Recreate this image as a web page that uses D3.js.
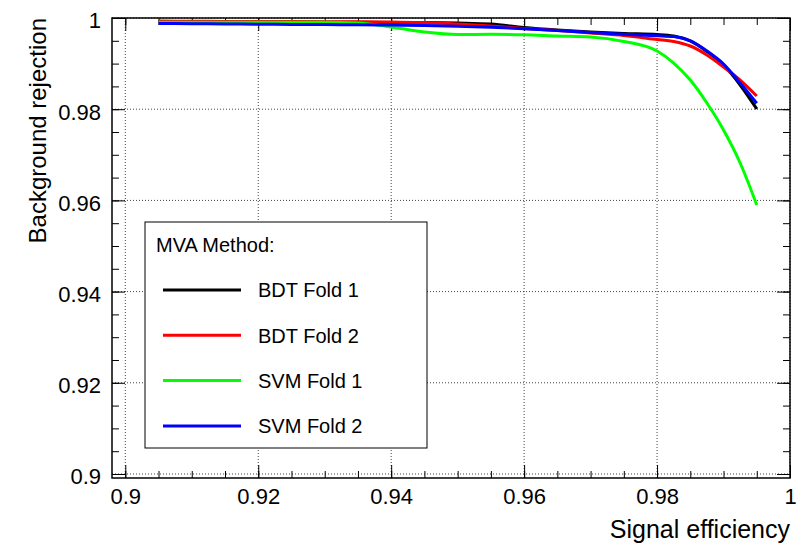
<!DOCTYPE html>
<html>
<head>
<meta charset="utf-8">
<script src="https://cdn.jsdelivr.net/npm/d3@7"></script>
<style>
  html, body { margin: 0; padding: 0; background: #fff; }
  svg { display: block; }
  text { font-family: "Liberation Sans", Arial, Helvetica, sans-serif; fill: #000; }
</style>
</head>
<body>
<svg id="chart" width="809" height="544"></svg>
<script>
// ROC curves: signal efficiency vs background rejection for each MVA method / fold
const sigEff = [0.905, 0.91, 0.915, 0.92, 0.925, 0.93, 0.935, 0.94, 0.945, 0.95, 0.955,
                0.96, 0.965, 0.97, 0.975, 0.98, 0.9825, 0.985, 0.9875, 0.99, 0.9925, 0.995];

const bdtFold1 = [0.99923, 0.99921, 0.99918, 0.99915, 0.99912, 0.99909, 0.99906, 0.99903, 0.99901, 0.9989, 0.99868,
                  0.99792, 0.99737, 0.99693, 0.9966, 0.99638, 0.99605, 0.99496, 0.99265, 0.98969, 0.98531, 0.98004];
const bdtFold2 = [0.99934, 0.99929, 0.99925, 0.99923, 0.99921, 0.99919, 0.99916, 0.9991, 0.99901, 0.99868, 0.99825,
                  0.9977, 0.99726, 0.99671, 0.99616, 0.99529, 0.99485, 0.99386, 0.99189, 0.98925, 0.9864, 0.9829];
const svmFold1 = [0.99906, 0.99906, 0.99906, 0.99906, 0.99906, 0.99906, 0.9989, 0.99803, 0.99693, 0.99638, 0.99643,
                  0.99632, 0.99605, 0.99583, 0.99485, 0.99276, 0.99013, 0.9864, 0.98136, 0.97544, 0.9682, 0.959];
const svmFold2 = [0.99879, 0.99875, 0.99868, 0.99864, 0.9986, 0.99855, 0.99851, 0.99846, 0.99836, 0.9982, 0.99798,
                  0.99765, 0.99726, 0.99682, 0.99643, 0.99612, 0.99594, 0.99496, 0.99276, 0.98991, 0.98575, 0.9813];

const seriesNames = ["BDT Fold 1", "BDT Fold 2", "SVM Fold 1", "SVM Fold 2"];
const seriesColors = ["#000000", "#ff0000", "#00ff00", "#0000ff"];
const seriesValues = [bdtFold1, bdtFold2, svmFold1, svmFold2];

const xMajorTicks = [0.9, 0.92, 0.94, 0.96, 0.98, 1];
const yMajorTicks = [0.9, 0.92, 0.94, 0.96, 0.98, 1];
const minorTicks = d3.range(0, 21).map(i => +(0.9 + i * 0.005).toFixed(3));

const xTitle = "Signal efficiency";
const yTitle = "Background rejection";
const legendTitle = "MVA Method:";

// frame geometry
const frame = { left: 112, right: 790, top: 18, bottom: 478 };
const W = frame.right - frame.left, H = frame.bottom - frame.top;

const x = d3.scaleLinear().domain([0.898, 1.0]).range([0, W]);
const y = d3.scaleLinear().domain([0.89912, 1.0]).range([H, 0]);

const svg = d3.select("#chart");
const g = svg.append("g").attr("transform", `translate(${frame.left},${frame.top})`);

const fmt = d => String(+d.toFixed(2));

// dotted grid
const grid = g.append("g").attr("class", "grid");
grid.selectAll("line.gx").data(xMajorTicks).join("line")
  .attr("x1", d => x(d)).attr("x2", d => x(d)).attr("y1", 0).attr("y2", H);
grid.selectAll("line.gy").data(yMajorTicks).join("line")
  .attr("x1", 0).attr("x2", W).attr("y1", d => y(d)).attr("y2", d => y(d));
grid.selectAll("line")
  .attr("stroke", "#444").attr("stroke-width", 1).attr("stroke-dasharray", "1,2");

// axes with inward ticks on all four sides
function styleAxis(sel) {
  sel.select(".domain").remove();
  sel.selectAll(".tick line").attr("stroke", "#000").attr("stroke-width", 1);
}
const majorLen = 13, minorLen = 7;

g.append("g").attr("transform", `translate(0,${H})`)
  .call(d3.axisBottom(x).tickValues(minorTicks).tickSize(-minorLen).tickFormat(""))
  .call(styleAxis);
g.append("g")
  .call(d3.axisTop(x).tickValues(minorTicks).tickSize(-minorLen).tickFormat(""))
  .call(styleAxis);
g.append("g")
  .call(d3.axisLeft(y).tickValues(minorTicks).tickSize(-minorLen).tickFormat(""))
  .call(styleAxis);
g.append("g").attr("transform", `translate(${W},0)`)
  .call(d3.axisRight(y).tickValues(minorTicks).tickSize(-minorLen).tickFormat(""))
  .call(styleAxis);

const xAxis = g.append("g").attr("transform", `translate(0,${H})`)
  .call(d3.axisBottom(x).tickValues(xMajorTicks).tickSize(-majorLen).tickPadding(10).tickFormat(fmt))
  .call(styleAxis);
xAxis.selectAll("text").attr("font-size", 22);
g.append("g")
  .call(d3.axisTop(x).tickValues(xMajorTicks).tickSize(-majorLen).tickFormat(""))
  .call(styleAxis);
const yAxis = g.append("g")
  .call(d3.axisLeft(y).tickValues(yMajorTicks).tickSize(-majorLen).tickPadding(11).tickFormat(fmt))
  .call(styleAxis);
yAxis.selectAll("text").attr("font-size", 22).attr("dy", "0.45em");
g.append("g").attr("transform", `translate(${W},0)`)
  .call(d3.axisRight(y).tickValues(yMajorTicks).tickSize(-majorLen).tickFormat(""))
  .call(styleAxis);

// curves
const line = d3.line()
  .x((d, i) => x(sigEff[i]))
  .y(d => y(d))
  .curve(d3.curveMonotoneX);

g.append("g").selectAll("path").data(seriesValues).join("path")
  .attr("d", line)
  .attr("fill", "none")
  .attr("stroke", (d, i) => seriesColors[i])
  .attr("stroke-width", 3)
  .attr("stroke-linejoin", "round");

// frame
g.append("rect").attr("x", 0).attr("y", 0).attr("width", W).attr("height", H)
  .attr("fill", "none").attr("stroke", "#000").attr("stroke-width", 1.5);

// axis titles
svg.append("text")
  .attr("x", frame.right).attr("y", 538)
  .attr("text-anchor", "end").attr("font-size", 25)
  .text(xTitle);
svg.append("text")
  .attr("transform", `translate(46,${frame.top}) rotate(-90)`)
  .attr("text-anchor", "end").attr("font-size", 24)
  .text(yTitle);

// legend
const lg = svg.append("g").attr("transform", "translate(145,222)");
lg.append("rect").attr("width", 282).attr("height", 226)
  .attr("fill", "#fff").attr("stroke", "#000").attr("stroke-width", 1);
lg.append("text").attr("x", 11).attr("y", 29.5).attr("font-size", 20).text(legendTitle);
const items = lg.selectAll("g.item").data(seriesNames).join("g")
  .attr("transform", (d, i) => `translate(0,${68 + i * 45.3})`);
items.append("line").attr("x1", 18).attr("x2", 96).attr("y1", 0).attr("y2", 0)
  .attr("stroke", (d, i) => seriesColors[i]).attr("stroke-width", 3);
items.append("text").attr("x", 113).attr("y", 0).attr("dy", "0.36em")
  .attr("font-size", 20).text(d => d);
</script>
</body>
</html>
